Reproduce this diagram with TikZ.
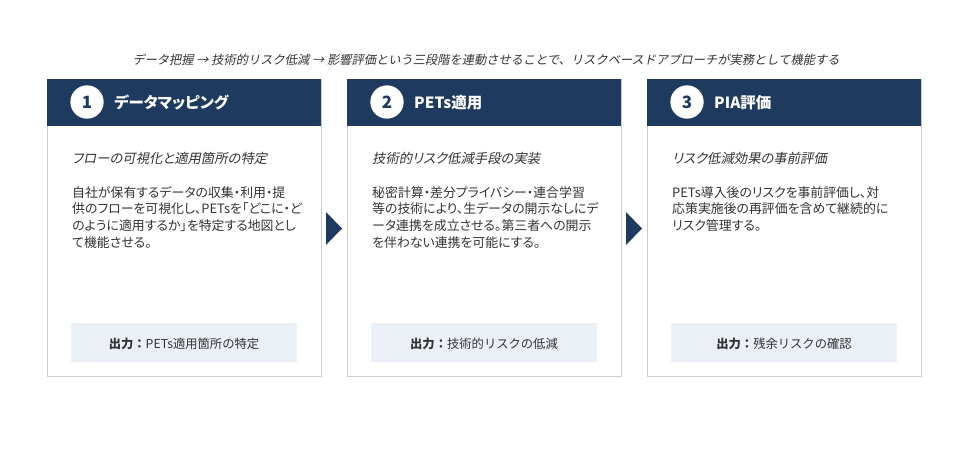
\documentclass[tikz,border=0pt]{standalone}
\usepackage{fontspec}
\setmainfont{Noto Sans CJK JP}[RawFeature=+palt]
\newfontfamily\slantjp{Noto Sans CJK JP}[FakeSlant=0.2,RawFeature=+palt]
\newfontfamily\slantwide{Noto Sans CJK JP}[FakeSlant=0.2]
\newfontfamily\widejp{Noto Sans CJK JP}
\definecolor{navy}{HTML}{1F3A5F}
\definecolor{cardgray}{HTML}{C9CED4}
\definecolor{outbg}{HTML}{EBF0F6}
\definecolor{inkgray}{HTML}{333333}
\tikzset{
  caption/.style={font=\slantwide\fontsize{10.45}{12}\selectfont,text=inkgray,inner sep=0},
  cardline/.style={draw=cardgray,line width=0.6pt},
  numdot/.style={circle,fill=white,minimum size=1.0cm,inner sep=0,
    text=navy,font=\bfseries\fontsize{14.5}{14.5}\selectfont},
  headtext/.style={anchor=west,inner sep=0,text=white,
    font=\bfseries\fontsize{13.2}{15}\selectfont},
  subtext/.style={anchor=west,inner sep=0,text=inkgray,
    font=\slantjp\fontsize{11.4}{13}\selectfont},
  bodytext/.style={anchor=north west,inner sep=0,align=left,text=inkgray,
    font=\fontsize{11}{14.2}\selectfont},
  outtext/.style={inner sep=0,text=inkgray,font=\widejp\fontsize{10.5}{12}\selectfont}
}
\begin{document}
\begin{tikzpicture}[x=0.03cm,y=-0.03cm]
  \useasboundingbox (0,0) rectangle (955,460);
  \node[caption] (cap) at (486,60) {データ把握 → 技術的リスク低減 → 影響評価という三段階を連動させることで、リスクベースドアプローチが実務として機能する};
  \foreach \i/\x/\title/\sub/\body/\out in {
    1/0/{データマッピング}/{フローの可視化と適用箇所の特定}/{自社が保有するデータの収集・利用・提\\供のフローを可視化し、PETsを「どこに・ど\\のように適用するか」を特定する地図とし\\て機能させる。}/{PETs適用箇所の特定},
    2/300/{PETs適用}/{技術的リスク低減手段の実装}/{秘密計算・差分プライバシー・連合学習\\等の技術により、生データの開示なしにデ\\ータ連携を成立させる。第三者への開示\\を伴わない連携を可能にする。}/{技術的リスクの低減},
    3/600/{PIA評価}/{リスク低減効果の事前評価}/{PETs導入後のリスクを事前評価し、対\\応策実施後の再評価を含めて継続的に\\リスク管理する。}/{残余リスクの確認}}
  {
    \draw[cardline] (\x+47,79) rectangle ++(274,297);
    \fill[navy] (\x+47,79) rectangle ++(274,47);
    \coordinate (e\i) at (\x+321,228.5);
    \node[numdot] (num\i) at (\x+87,102) {\i};
    \node[headtext] (head\i) at (\x+114,103) {\title};
    \node[subtext] (sub\i) at (\x+72,158) {\sub};
    \node[bodytext] (body\i) at (\x+72,186) {\body};
    \fill[outbg] (\x+71,323) rectangle ++(226,39);
    \node[outtext] (out\i) at (\x+184,344) {\textbf{出力：}\out};
  }
  % chevrons between the steps
  \foreach \i in {1,2}
    \fill[navy] (e\i) ++(5,-16.5) -- ++(16,16.5) -- ++(-16,16.5) -- cycle;
\end{tikzpicture}
\end{document}
